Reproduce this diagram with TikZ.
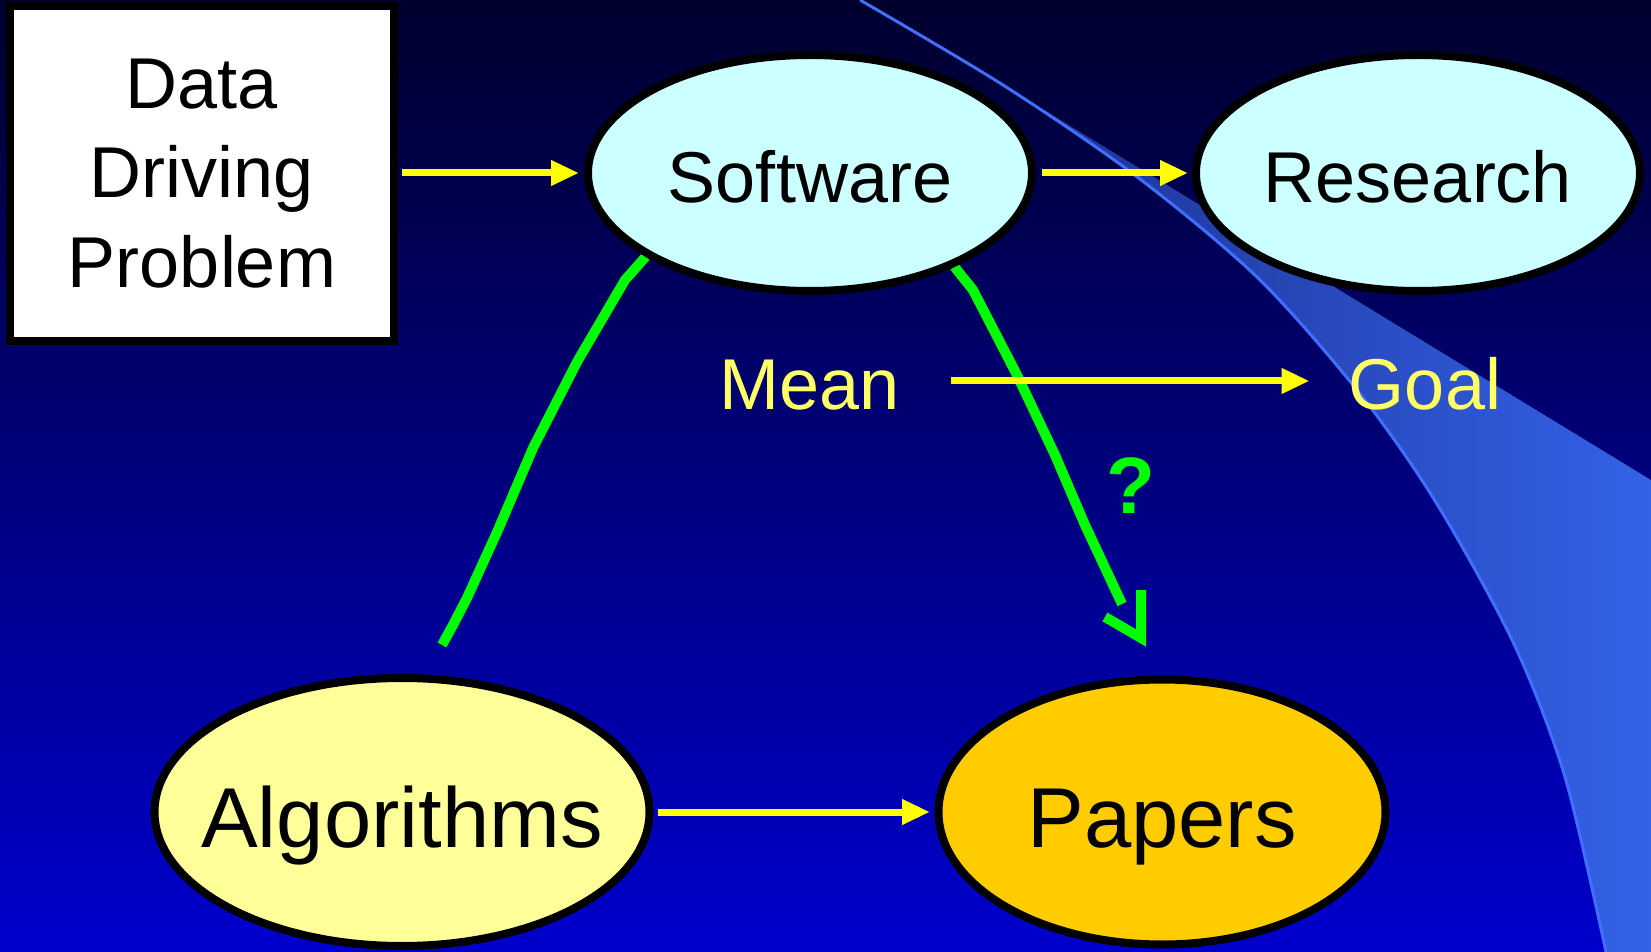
\documentclass[tikz,border=0pt]{standalone}
\usepackage{fontspec}
\setmainfont{Liberation Sans}
\usetikzlibrary{arrows.meta,shapes.geometric}
\pgfdeclarelayer{back}
\pgfdeclarelayer{mid}
\pgfsetlayers{back,mid,main}

\definecolor{bgtop}{RGB}{0,0,45}
\definecolor{bgbot}{RGB}{0,0,205}
\definecolor{bandleft}{RGB}{28,48,145}
\definecolor{bandright}{RGB}{52,98,232}
\definecolor{bandedge}{RGB}{64,110,255}
\definecolor{cyanfill}{RGB}{204,255,255}
\definecolor{algfill}{RGB}{255,255,153}
\definecolor{paperfill}{RGB}{255,204,0}
\definecolor{labelyellow}{RGB}{255,255,102}
\definecolor{arrowyellow}{RGB}{255,255,0}
\definecolor{linkgreen}{RGB}{0,255,0}

\begin{document}
\begin{tikzpicture}[x=0.5pt,y=-0.5pt,
  bubble/.style={ellipse, draw=black, line width=4pt, inner ysep=0pt,
    inner xsep=-25pt,
    font=\fontsize{36pt}{43pt}\selectfont, text height=30pt, text depth=0pt},
  bigbubble/.style={bubble, font=\fontsize{42.5pt}{50pt}\selectfont, text height=35pt},
  probbox/.style={rectangle, draw=black, fill=white, line width=4pt, inner sep=0pt,
    minimum width=192pt, minimum height=167.5pt, align=center,
    font=\fontsize{36pt}{44.75pt}\selectfont},
  yarrow/.style={draw=arrowyellow, line width=3.5pt,
    -{Triangle[length=14pt,width=12pt]}},
  gline/.style={draw=linkgreen, line width=5pt, line join=round},
  sidelabel/.style={text=labelyellow, inner sep=0pt, anchor=base,
    font=\fontsize{36pt}{43pt}\selectfont}]

\useasboundingbox (0,0) rectangle (1651,952);

% backdrop and the sweeping light band on the right
\begin{pgfonlayer}{back}
  \shade[top color=bgtop, bottom color=bgbot] (0,0) rectangle (1651,952);
  \fill[left color=bandleft, right color=bandright]
    plot[smooth] coordinates {(1003,85) (1136,176) (1259,279) (1361,395)
      (1437,504) (1514,644) (1565,777) (1606,952)}
    -- (1651,952) -- (1651,480) -- cycle;
  \draw[bandedge, line width=1.5pt]
    plot[smooth] coordinates {(860,0) (1003,85) (1136,176) (1259,279)
      (1361,395) (1437,504) (1514,644) (1565,777) (1606,952)};
\end{pgfonlayer}

% nodes
\node[probbox] (dd) at (202,173.5) {Data\\Driving\\Problem};
\node[bubble, fill=cyanfill, minimum width=222pt, minimum height=118pt]
  (sw) at (810,173) {Software};
\node[bubble, fill=cyanfill, minimum width=222pt, minimum height=118pt]
  (rs) at (1418,173) {Research};
\node[bigbubble, fill=algfill, minimum width=247.5pt, minimum height=134pt]
  (alg) at (402,812) {Algorithms};
\node[bigbubble, fill=paperfill, minimum width=223.5pt, minimum height=132.5pt]
  (pp) at (1162,812) {Papers};
\node[sidelabel] (mean) at (810,410) {Mean};
\node[sidelabel] (goal) at (1425,410) {Goal};
\node[text=linkgreen, inner sep=0pt, font=\fontsize{40pt}{48pt}\selectfont\bfseries]
  (q) at (1131,486) {?};

% green freehand links, tucked under the ellipses
\begin{pgfonlayer}{mid}
  \coordinate (ga) at (442,645);
  \coordinate (gp) at (1122,604);
  \coordinate (qv) at (1141,638);
  \draw[gline] (sw.207) -- (625,280) -- (577,362) -- (533,448) -- (498,530)
    -- (467,598) -- (453,625) -- (ga);
  \draw[gline] (sw.327) -- (973,290) -- (1017,375) -- (1055,455)
    -- (1085,525) -- (gp);
  \draw[gline, line join=miter] ([shift={(-36,-21)}]qv) -- (qv)
    -- ([shift={(0,-48)}]qv);
\end{pgfonlayer}

% yellow arrows
\draw[yarrow, shorten <=2pt, shorten >=2.5pt] (dd.east |- sw.west) -- (sw.west);
\draw[yarrow, shorten <=3pt, shorten >=2pt] (sw.east) -- (rs.west);
\draw[yarrow, shorten <=2pt, shorten >=2.25pt] (alg.east) -- (alg.east -| pp.west);
\path ([yshift=2.3pt]mean.east) coordinate (ms);
\draw[yarrow, shorten <=25.5pt, shorten >=19.5pt] (ms) -- (ms -| goal.west);

\end{tikzpicture}
\end{document}
